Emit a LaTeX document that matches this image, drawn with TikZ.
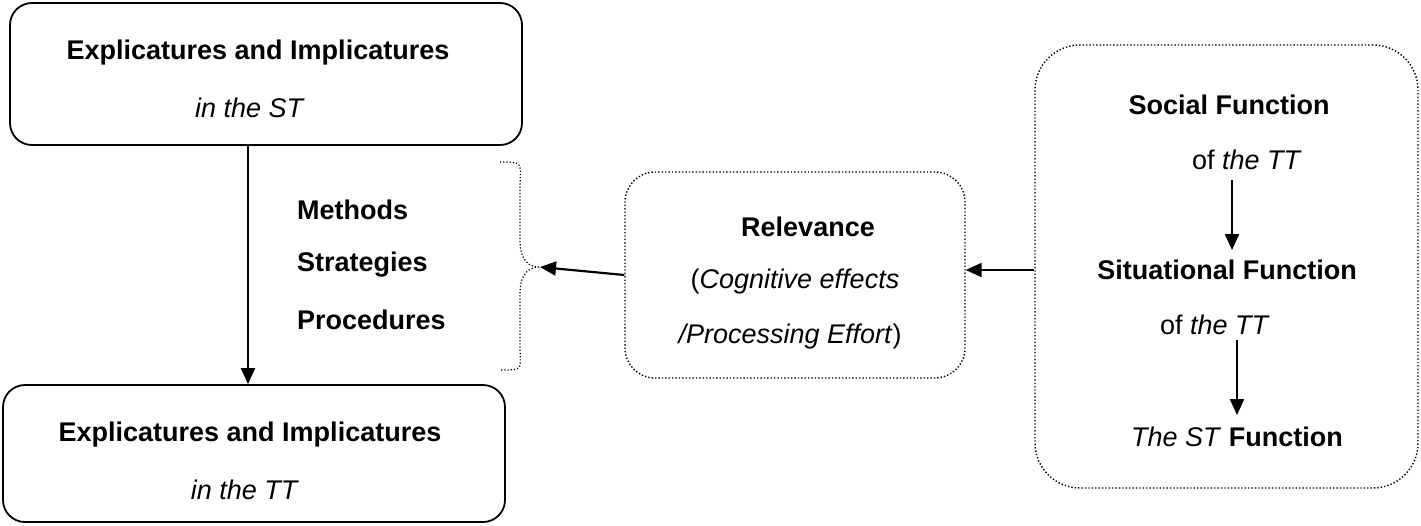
\documentclass[tikz,border=0pt]{standalone}
\usepackage{fontspec}
\setmainfont{Liberation Sans}
\usetikzlibrary{arrows.meta}
\begin{document}
\begin{tikzpicture}[x=1pt,y=-1pt,
  solidbox/.style={draw,line width=1.8pt,rounded corners=22pt},
  dotbox/.style={draw,line width=1.4pt,dotted,rounded corners=30pt},
  arr/.style={-{Triangle[length=16pt,width=14pt]},line width=2.2pt},
  txt/.style={font=\fontsize{27}{32}\selectfont,inner sep=0pt}]
\useasboundingbox (0,0) rectangle (1421,525);
\node[solidbox,minimum width=512pt,minimum height=142pt] (st) at (266,74) {};
\node[solidbox,minimum width=502pt,minimum height=137pt] (tt) at (254,453.5) {};
\node[dotbox,minimum width=340pt,minimum height=206pt] (rel) at (795,275) {};
\node[dotbox,minimum width=383pt,minimum height=443pt,rounded corners=45pt] (fun) at (1226.5,266.5) {};
\node[txt] at (258,53) {\textbf{Explicatures and Implicatures}};
\node[txt] at (250,108) {\textit{in the ST}};
\node[txt] at (250,435) {\textbf{Explicatures and Implicatures}};
\node[txt] at (245,490) {\textit{in the TT}};
\node[txt,anchor=west] at (297,210) {\textbf{Methods}};
\node[txt,anchor=west] at (297,265) {\textbf{Strategies}};
\node[txt,anchor=west] at (297,320) {\textbf{Procedures}};
\node[txt] at (808,227) {\textbf{Relevance}};
\node[txt] at (795,282) {(\textit{Cognitive effects}};
\node[txt] at (790,337) {\textit{/Processing Effort})};
\node[txt] (sf) at (1229,105) {\textbf{Social Function}};
\node[txt] (sf2) at (1247,160) {of \textit{the TT}};
\node[txt] (sit) at (1227,270) {\textbf{Situational Function}};
\node[txt] (sit2) at (1215,325) {of \textit{the TT}};
\node[txt] (stf) at (1237,437) {\textit{The ST} \textbf{Function}};
\coordinate (br) at (540,267);
\draw[line width=1.2pt,dotted] (500,162) .. controls (525,162) and (520,162) .. (520,190)
  -- (520,240) .. controls (520,262) and (530,267) .. (br)
  .. controls (530,267) and (520,272) .. (520,294) -- (520,345)
  .. controls (520,370) and (525,370) .. (500,370);
\draw[arr] (st.south -| 248,0) -- (tt.north -| 248,0);
\draw[arr] (rel.west) -- (br);
\draw[arr] (fun.west |- 0,270) -- (rel.east |- 0,270);
\draw[arr] (1232,180) -- (1232,250);
\draw[arr] (1237,340) -- (1237,415);
\end{tikzpicture}
\end{document}
